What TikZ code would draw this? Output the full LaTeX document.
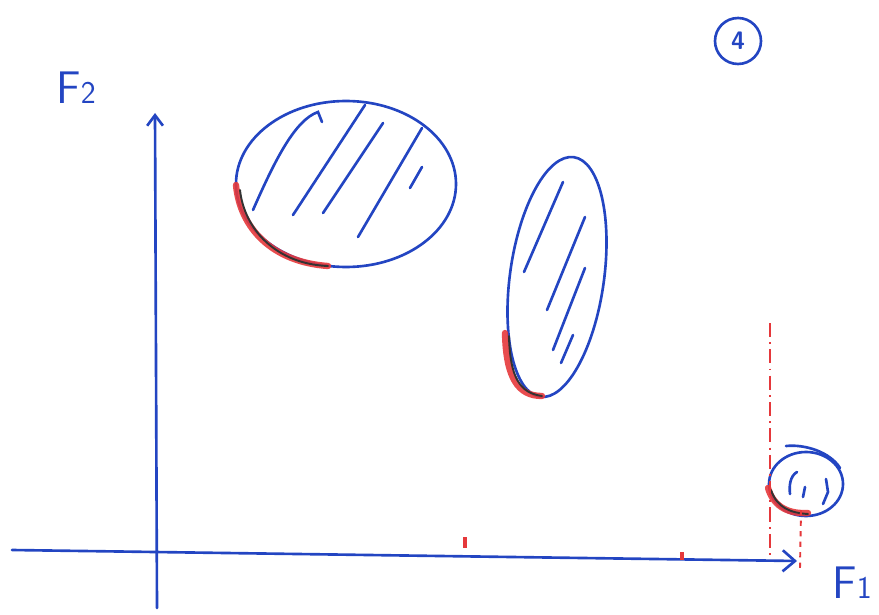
\documentclass[tikz,border=0pt]{standalone}
\usepackage{tikz}
\usetikzlibrary{arrows.meta}

\definecolor{penblue}{HTML}{2345C2}
\definecolor{penred}{HTML}{E5383B}

\begin{document}
\begin{tikzpicture}[x=0.02cm, y=-0.02cm,
        pen/.style={penblue, line width=1.5pt, line cap=round},
        marker/.style={penred, line width=3.6pt, line cap=round, opacity=0.9},
        ink/.style={black!80, line width=1.1pt, line cap=round},
        guide/.style={penred, line width=1.1pt},
        label/.style={penblue, font=\sffamily\fontsize{26}{28}\selectfont}
    ]
        \useasboundingbox (0,0) rectangle (879,615);

        % axes
        \coordinate (f1start) at (12,550);
        \coordinate (f1end) at (797,561);
        \coordinate (f2start) at (157,608);
        \coordinate (f2end) at (155,113);
        \draw[pen, -{Straight Barb[length=7pt, width=12pt]}] (f1start) -- (f1end);
        \draw[pen, -{Straight Barb[length=6pt, width=9pt]}] (f2start) -- (f2end);
        \node[label] (f1) at (852,583) {F{\fontsize{18}{18}\selectfont 1}};
        \node[label] (f2) at (76,88) {F{\fontsize{18}{18}\selectfont 2}};

        % page number
        \node[pen, draw, circle, minimum size=46*0.02cm, font=\sffamily\Large\bfseries, inner sep=0pt] (num) at (738,41) {4};

        % large cluster
        \draw[pen] (346,184) ellipse [x radius=110, y radius=83];
        \draw[pen] (253,210) .. controls (275,160) and (295,120) .. (318,112) -- (322,122);
        \draw[pen] (293,215) -- (365,105);
        \draw[pen] (323,213) -- (383,123);
        \draw[pen] (358,237) -- (422,128);
        \draw[pen] (410,188) -- (422,167);
        \draw[marker] (236,185) .. controls (240,228) and (272,262) .. (328,266);
        \draw[ink] (240,190) .. controls (244,228) and (275,264) .. (328,266);

        % elongated cluster
        \draw[pen, rotate around={-8:(557,277)}] (557,277) ellipse [x radius=47, y radius=121];
        \draw[pen] (563,182) -- (524,272);
        \draw[pen] (585,217) -- (547,310);
        \draw[pen] (585,268) -- (553,350);
        \draw[pen] (573,335) -- (561,363);
        \draw[marker] (505,333) .. controls (506,378) and (518,396) .. (542,396);
        \draw[ink] (509,336) .. controls (510,378) and (520,393) .. (542,396);

        % small cluster
        \draw[pen] (806,484) ellipse [x radius=37, y radius=32];
        \draw[pen] (786,446) .. controls (805,444) and (830,452) .. (840,468);
        \draw[pen] (797,472) .. controls (790,476) and (789,486) .. (790,494);
        \draw[pen] (805,487) -- (803,497);
        \draw[pen] (826,479) -- (828,492) -- (823,504);
        \draw[marker] (768,488) .. controls (774,508) and (790,514) .. (808,513);
        \draw[ink] (771,490) .. controls (777,508) and (791,513) .. (808,514);

        % bounds
        \draw[guide, dash pattern=on 8pt off 3pt on 1pt off 3pt] (770,323) -- (770,557);
        \draw[guide, dash pattern=on 3pt off 3pt] (801,510) -- (800,568);
        \draw[guide, line width=2pt] (465,537) -- (465,548);
        \draw[guide, line width=2.4pt] (682,552) -- (682,560);
\end{tikzpicture}
\end{document}
